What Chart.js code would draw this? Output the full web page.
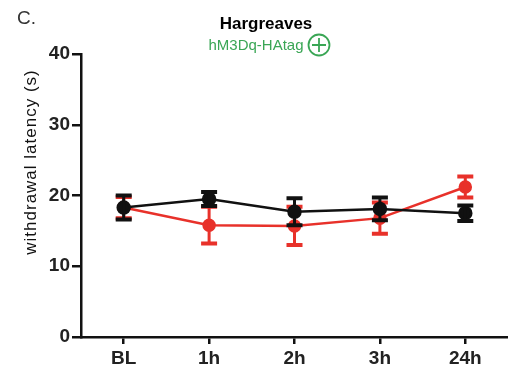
<!DOCTYPE html>
<html>
<head>
<meta charset="utf-8">
<script src="https://cdn.jsdelivr.net/npm/chart.js@4"></script>
<style>
  html, body { margin: 0; padding: 0; background: #fff; }
  #wrap { width: 508px; height: 379px; }
</style>
</head>
<body>
<div id="wrap"><canvas id="chart" width="508" height="379"></canvas></div>
<script>
var timeLabels = ['BL', '1h', '2h', '3h', '24h'];
var yTicks = [0, 10, 20, 30, 40];

// control (black) and hM3Dq (red) group means with SEM
var blackMean = [18.3, 19.5, 17.7, 18.1, 17.5];
var blackErr  = [1.7, 1.0, 1.9, 1.6, 1.1];
var redMean   = [18.3, 15.8, 15.7, 16.8, 21.2];
var redErr    = [1.5, 2.6, 2.7, 2.2, 1.5];

var RED = '#e8312a';
var FONT = '"Liberation Sans", Arial, sans-serif';

var errorBars = {
	id: 'errorBars',
	afterDatasetDraw: function(chart, args) {
		var ds = chart.data.datasets[args.index];
		var meta = args.meta;
		var y = chart.scales.y;
		var ctx = chart.ctx;
		ctx.save();
		ctx.strokeStyle = ds.borderColor;
		for (var i = 0; i < ds.data.length; i++) {
			var px = meta.data[i].x;
			var top = y.getPixelForValue(ds.data[i] + ds.errors[i]);
			var bot = y.getPixelForValue(ds.data[i] - ds.errors[i]);
			ctx.lineWidth = 3;
			ctx.beginPath();
			ctx.moveTo(px, top); ctx.lineTo(px, bot);
			ctx.stroke();
			ctx.lineWidth = 4;
			ctx.beginPath();
			ctx.moveTo(px - 8, top); ctx.lineTo(px + 8, top);
			ctx.moveTo(px - 8, bot); ctx.lineTo(px + 8, bot);
			ctx.stroke();
		}
		ctx.restore();
	}
};

var labels = {
	id: 'labels',
	afterDraw: function(chart) {
		var ctx = chart.ctx;
		ctx.save();
		ctx.fillStyle = '#333';
		ctx.font = '19px ' + FONT;
		ctx.textAlign = 'left';
		ctx.textBaseline = 'middle';
		ctx.fillText('C.', 17, 19);

		ctx.fillStyle = '#000';
		ctx.font = 'bold 17px ' + FONT;
		ctx.textAlign = 'center';
		ctx.fillText('Hargreaves', 266, 24);

		ctx.fillStyle = '#3aa655';
		ctx.font = '15px ' + FONT;
		ctx.fillText('hM3Dq-HAtag', 256, 46);

		ctx.strokeStyle = '#3aa655';
		ctx.lineWidth = 1.8;
		ctx.beginPath();
		ctx.arc(319, 45, 10.5, 0, Math.PI * 2);
		ctx.moveTo(312, 45); ctx.lineTo(326, 45);
		ctx.moveTo(319, 38); ctx.lineTo(319, 52);
		ctx.stroke();

		ctx.fillStyle = '#111';
		ctx.font = '17px ' + FONT;
		ctx.letterSpacing = '1px';
		ctx.translate(31, 162);
		ctx.rotate(-Math.PI / 2);
		ctx.fillText('withdrawal latency (s)', 0, 0);
		ctx.restore();
	}
};

new Chart(document.getElementById('chart'), {
	type: 'line',
	data: {
		labels: timeLabels,
		datasets: [{
			data: blackMean,
			errors: blackErr,
			borderColor: '#111',
			backgroundColor: '#111',
			borderWidth: 2.5,
			pointRadius: 6,
			pointHoverRadius: 6,
			tension: 0
		}, {
			data: redMean,
			errors: redErr,
			borderColor: RED,
			backgroundColor: RED,
			borderWidth: 2.5,
			pointRadius: 5.5,
			pointHoverRadius: 5.5,
			tension: 0
		}]
	},
	options: {
		responsive: false,
		animation: false,
		layout: { autoPadding: false, padding: { top: 54, right: 0, bottom: 0, left: 0 } },
		plugins: { legend: { display: false }, tooltip: { enabled: false } },
		scales: {
			x: {
				type: 'category',
				offset: true,
				afterFit: function(scale) { scale.height = 42; },
				border: { color: '#111', width: 2.5 },
				grid: { drawOnChartArea: false, drawTicks: true, tickLength: 7, color: '#111', lineWidth: 2.5, offset: false },
				ticks: { color: '#222', padding: 3, font: { family: FONT, size: 19, weight: 'bold' } }
			},
			y: {
				min: 0,
				max: 40,
				afterFit: function(scale) { scale.width = 81; },
				afterBuildTicks: function(scale) {
					scale.ticks = yTicks.map(function(v) { return { value: v }; });
				},
				border: { color: '#111', width: 2.5 },
				grid: { drawOnChartArea: false, drawTicks: true, tickLength: 9, color: '#111', lineWidth: 2.5 },
				ticks: { color: '#222', padding: 2, font: { family: FONT, size: 19, weight: 'bold' } }
			}
		}
	},
	plugins: [errorBars, labels]
});
</script>
</body>
</html>
